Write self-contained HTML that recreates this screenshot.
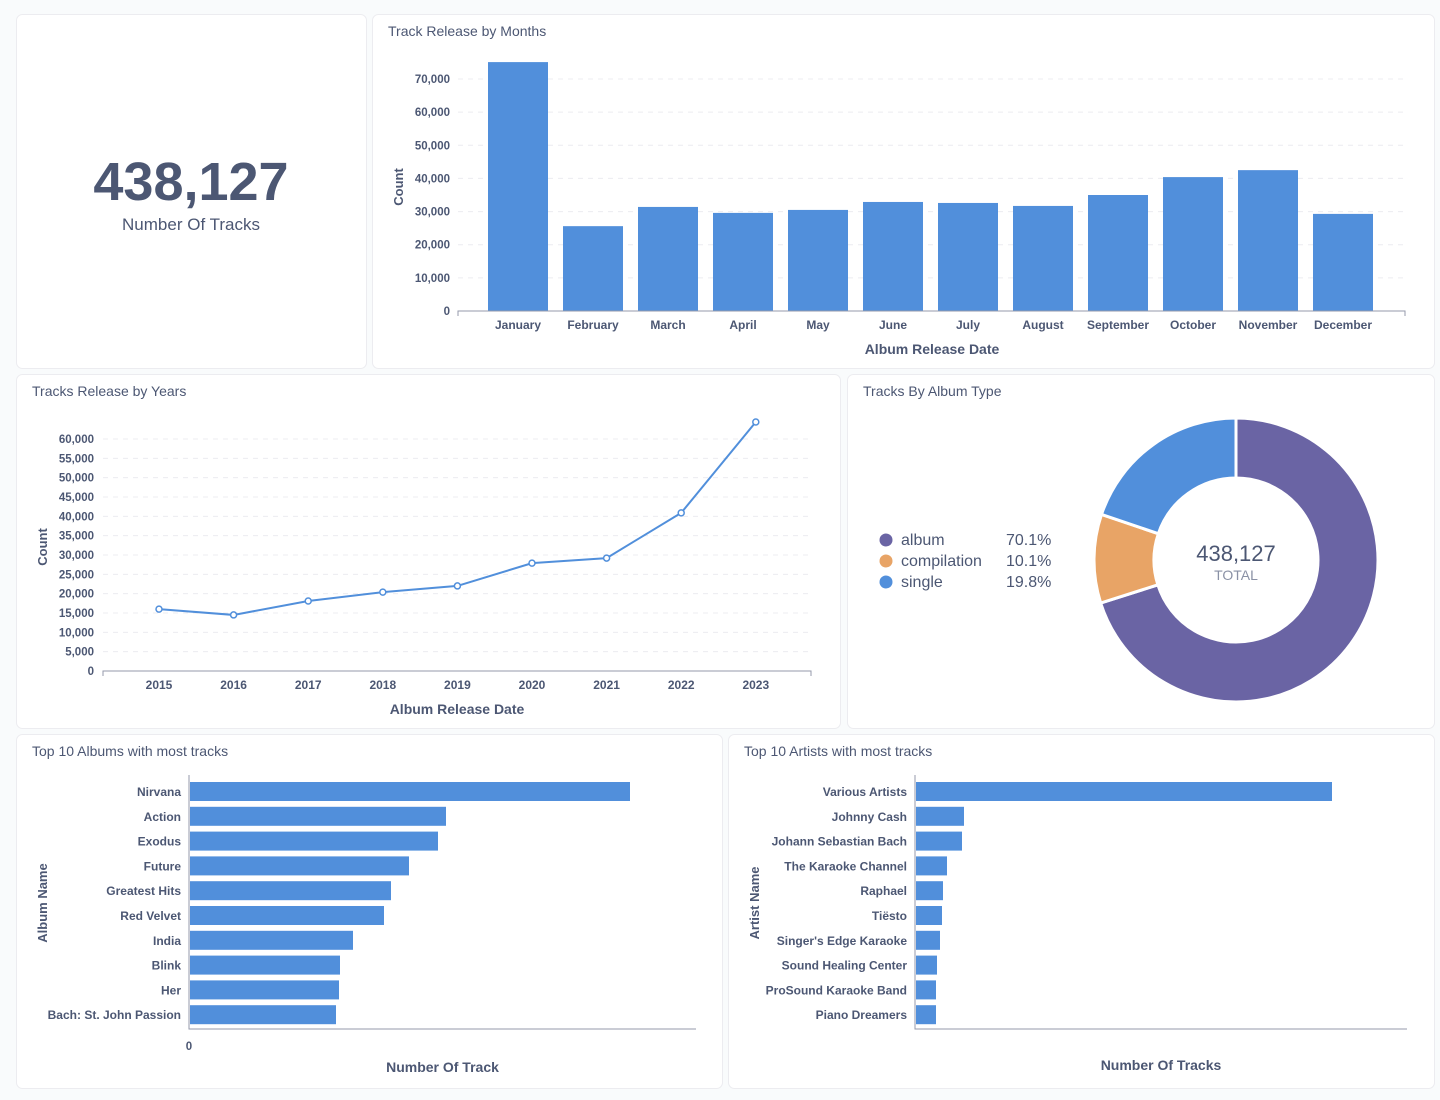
<!DOCTYPE html>
<html><head><meta charset="utf-8">
<style>
html,body{margin:0;padding:0;background:#f9fbfc;}
body{width:1440px;height:1095px;overflow:hidden;font-family:"Liberation Sans",sans-serif;}
svg text{font-family:"Liberation Sans",sans-serif;}
</style></head>
<body>
<svg id="root" width="1440" height="1095" viewBox="0 0 1440 1095" xmlns="http://www.w3.org/2000/svg">
<g id="cards"></g>
<g id="content"></g>
</svg>
<script>
// ---- data ----
const monthCategories = ["January","February","March","April","May","June","July","August","September","October","November","December"];
const monthValues = [75100,25600,31400,29600,30500,32900,32600,31700,35000,40400,42500,29300];
const monthTicks = [0,10000,20000,30000,40000,50000,60000,70000];

const yearCategories = ["2015","2016","2017","2018","2019","2020","2021","2022","2023"];
const yearValues = [16000,14500,18100,20400,22000,27900,29200,40900,64400];
const yearTicks = [0,5000,10000,15000,20000,25000,30000,35000,40000,45000,50000,55000,60000];

const typeLabels = ["album","compilation","single"];
const typeShares = [70.1,10.1,19.8];
const typeColors = ["#6a64a4","#e8a466","#518fdb"];

const albumNames = ["Nirvana","Action","Exodus","Future","Greatest Hits","Red Velvet","India","Blink","Her","Bach: St. John Passion"];
const albumValues = [440,256,248,219,201,194,163,150,149,146];

const artistNames = ["Various Artists","Johnny Cash","Johann Sebastian Bach","The Karaoke Channel","Raphael","Tiësto","Singer's Edge Karaoke","Sound Healing Center","ProSound Karaoke Band","Piano Dreamers"];
const artistValues = [416,48,46,31,27,26,24,21,20,20];

const NS="http://www.w3.org/2000/svg";
const TXT="#4c5773", BLUE="#518fdb";
function mk(tag,attrs,parent){const e=document.createElementNS(NS,tag);for(const k in attrs)e.setAttribute(k,attrs[k]);(parent||content).appendChild(e);return e;}
const content=document.getElementById('content');
const cardsG=document.getElementById('cards');
function fmt(v){return v.toLocaleString('en-US');}
function txt(x,y,s,opt,name){const t=mk('text',Object.assign({x:x,y:y,fill:TXT,'font-size':12,'font-weight':'bold'},opt||{}));t.textContent=s;


return t;}

// cards
const cards=[[16,14,350,354,'number-of-tracks-card'],[372,14,1062,354,'months-card'],[16,374,824,354,'years-card'],[847,374,587,354,'album-type-card'],[16,734,706,354,'top-albums-card'],[728,734,706,354,'top-artists-card']];
cards.forEach(c=>{const r=mk('rect',{x:c[0]+0.5,y:c[1]+0.5,width:c[2],height:c[3],rx:6,fill:'#fff',stroke:'#ececf0'},cardsG);

});

// scalar
txt(191,200,'438,127',{'font-size':54,'text-anchor':'middle','fill':'#4c5773'},'total-tracks-value');
txt(191,230,'Number Of Tracks',{'font-size':17,'font-weight':'normal','text-anchor':'middle'},'total-tracks-label');

// titles
txt(388,36,'Track Release by Months',{'font-size':14,'font-weight':'normal'},'months-title');
txt(32,396,'Tracks Release by Years',{'font-size':14,'font-weight':'normal'},'years-title');
txt(863,396,'Tracks By Album Type',{'font-size':14,'font-weight':'normal'},'album-type-title');
txt(32,756,'Top 10 Albums with most tracks',{'font-size':14,'font-weight':'normal'},'albums-title');
txt(744,756,'Top 10 Artists with most tracks',{'font-size':14,'font-weight':'normal'},'artists-title');

// ---- month bar chart ----
(function(){
 const y0=311, yPer=232/70000, x0=458, x1=1405, c0=518, step=75, bw=60;
 const y=v=>y0-v*yPer, x=i=>c0+i*step;
 monthTicks.forEach(t=>{
  if(t>0){const l=mk('line',{x1:x0,x2:x1,y1:y(t),y2:y(t),stroke:'#ececf0','stroke-dasharray':'5,5'});
  
  }
  txt(450,y(t)+4,fmt(t),{'text-anchor':'end','font-size':11.5},'month-y-tick');
 });
 monthValues.forEach((v,i)=>{
  const r=mk('rect',{x:x(i)-bw/2,y:y(v),width:bw,height:y0-y(v),fill:BLUE});
  
  
  txt(x(i),329,monthCategories[i],{'text-anchor':'middle','font-size':12},'month-x-tick');
 });
 const a=mk('path',{d:`M${x0} 316V${y0}H${x1}V316`,stroke:'#949aab',fill:'none'});
 
 
 txt(932,354,'Album Release Date',{'text-anchor':'middle','font-size':14},'month-x-axis-title');
 txt(0,0,'Count',{'text-anchor':'middle','font-size':13,transform:'translate(403,187) rotate(-90)'},'month-y-axis-title');
})();

// ---- year line chart ----
(function(){
 const y0=671, yPer=232/60000, x0=103, x1=811, c0=159, step=74.6;
 const y=v=>y0-v*yPer, x=i=>c0+i*step;
 yearTicks.forEach(t=>{
  if(t>0){const l=mk('line',{x1:x0,x2:x1,y1:y(t),y2:y(t),stroke:'#ececf0','stroke-dasharray':'5,5'});
  
  }
  txt(94,y(t)+4,fmt(t),{'text-anchor':'end','font-size':11.5},'year-y-tick');
 });
 const a=mk('path',{d:`M${x0} 676V${y0}H${x1}V676`,stroke:'#949aab',fill:'none'});
 
 
 const pts=yearValues.map((v,i)=>x(i)+','+y(v)).join(' ');
 const pl=mk('polyline',{points:pts,fill:'none',stroke:BLUE,'stroke-width':2});
 
 
 yearValues.forEach((v,i)=>{
  const c=mk('circle',{cx:x(i),cy:y(v),r:3,fill:'#fff',stroke:BLUE,'stroke-width':1.5});
  
  
  txt(x(i),689,yearCategories[i],{'text-anchor':'middle','font-size':12},'year-x-tick');
 });
 txt(457,714,'Album Release Date',{'text-anchor':'middle','font-size':14},'year-x-axis-title');
 txt(0,0,'Count',{'text-anchor':'middle','font-size':13,transform:'translate(47,547) rotate(-90)'},'year-y-axis-title');
})();

// ---- donut ----
(function(){
 const cx=1236, cy=560, R=142, r=82;
 let a=0; const tot=typeShares.reduce((s,v)=>s+v,0);
 typeShares.forEach((v,i)=>{
  const a1=a+v/tot*Math.PI*2;
  const p=(ang,rad)=>[cx+rad*Math.sin(ang),cy-rad*Math.cos(ang)];
  const [ox0,oy0]=p(a,R),[ox1,oy1]=p(a1,R),[ix1,iy1]=p(a1,r),[ix0,iy0]=p(a,r);
  const lg=(a1-a)>Math.PI?1:0;
  const s=mk('path',{d:`M${ox0} ${oy0}A${R} ${R} 0 ${lg} 1 ${ox1} ${oy1}L${ix1} ${iy1}A${r} ${r} 0 ${lg} 0 ${ix0} ${iy0}Z`,fill:typeColors[i],stroke:'#fff','stroke-width':3});
  
  
  a=a1;
  const ly=544+i*21;
  const d=mk('circle',{cx:886,cy:ly-4,r:6.5,fill:typeColors[i]});
  
  
  txt(901,ly+1,typeLabels[i],{'font-size':16,'font-weight':'normal'},'legend-entry-'+typeLabels[i]);
  txt(1006,ly+1,typeShares[i].toFixed(1)+'%',{'font-size':16,'font-weight':'normal'},'legend-value-'+typeLabels[i]);
 });
 txt(cx,561,'438,127',{'text-anchor':'middle','font-size':22,'font-weight':'normal'},'donut-total');
 txt(cx,580,'TOTAL',{'text-anchor':'middle','font-size':14,'font-weight':'normal',fill:'#8a91a5'},'donut-total-label');
})();

// ---- horizontal bars ----
function hbars(names,vals,x0,x1,maxV,prefix,axisTitle,yTitle,yTitleX,xTitleY,showZero){
 const top=782, step=24.8, bh=19, per=(x1-x0)/maxV;
 vals.forEach((v,i)=>{
  const yy=top+i*step;
  const r=mk('rect',{x:x0+1,y:yy,width:v*per,height:bh,fill:BLUE});
  
  
  txt(x0-8,yy+14,names[i],{'text-anchor':'end','font-size':12},prefix+'-y-tick');
 });
 const a=mk('path',{d:`M${x0} 775V1029H${x1}`,stroke:'#949aab',fill:'none'});
 
 
 if(showZero) txt(x0,1050,'0',{'text-anchor':'middle','font-size':11.5},prefix+'-x-tick');
 txt((x0+x1)/2,xTitleY,axisTitle,{'text-anchor':'middle','font-size':14},prefix+'-x-axis-title');
 txt(0,0,yTitle,{'text-anchor':'middle','font-size':13,transform:`translate(${yTitleX},903) rotate(-90)`},prefix+'-y-axis-title');
}
hbars(albumNames,albumValues,189,696,507,'album','Number Of Track','Album Name',47,1072,true);
hbars(artistNames,artistValues,915,1407,492,'artist','Number Of Tracks','Artist Name',759,1070,false);
</script>
</body></html>
